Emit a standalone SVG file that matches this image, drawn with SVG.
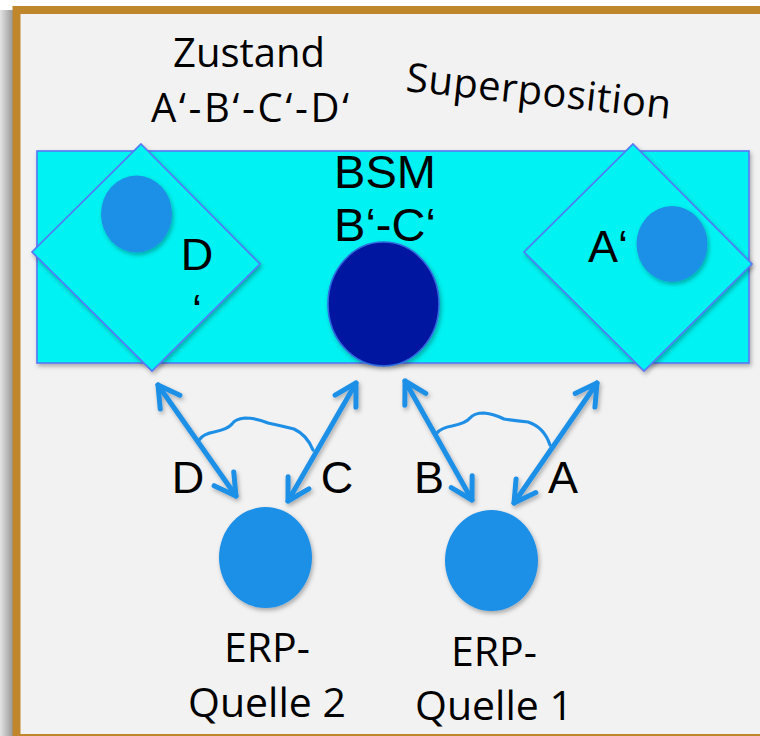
<svg xmlns="http://www.w3.org/2000/svg" width="760" height="736" viewBox="0 0 760 736">
  <style>
    .cal { font-family: "Open Sans", "Noto Sans", sans-serif; fill: #000; }
    .ari { font-family: "Liberation Sans", Arial, sans-serif; fill: #000; }
    .panel { fill: #00f2f2; stroke: #5576f5; stroke-width: 1.6; }
    .dot { fill: #1f8fe6; filter: url(#shadow); }
    .arrow { fill: none; stroke: #1f8fe6; stroke-width: 5; stroke-linecap: round; marker-start: url(#head); marker-end: url(#head); filter: url(#shadow); }
    .link { fill: none; stroke: #1f8fe6; stroke-width: 3.2; stroke-linecap: round; stroke-linejoin: round; }
  </style>
  <defs>
    <filter id="shadow" x="-30%" y="-30%" width="160%" height="160%">
      <feDropShadow dx="1.5" dy="2.5" stdDeviation="2" flood-color="#000" flood-opacity="0.3"/>
    </filter>
    <linearGradient id="edge" x1="0" y1="0" x2="1" y2="0">
      <stop offset="0" stop-color="#e4e4e4"/>
      <stop offset="1" stop-color="#979797"/>
    </linearGradient>
    <marker id="head" markerUnits="userSpaceOnUse" markerWidth="40" markerHeight="40" refX="0" refY="0" orient="auto-start-reverse" overflow="visible">
      <path d="M-21,-12 L0,0 L-21,12" fill="none" stroke="#1f8fe6" stroke-width="5" stroke-linecap="round" stroke-linejoin="round"/>
    </marker>
  </defs>

  <!-- page and frame -->
  <rect x="0" y="0" width="760" height="736" fill="#ffffff"/>
  <rect x="0" y="10" width="13" height="726" fill="url(#edge)"/>
  <rect x="16.5" y="10" width="800" height="728" fill="#f2f2f2" stroke="#bf862c" stroke-width="8"/>

  <!-- heading texts -->
  <g id="zustand">
    <text class="cal" x="249" y="67" font-size="40" text-anchor="middle">Zustand</text>
    <text class="cal" x="250" y="122" font-size="40" text-anchor="middle" textLength="198" lengthAdjust="spacing">A‘-B‘-C‘-D‘</text>
  </g>
  <g id="superposition">
    <text class="cal" x="405" y="91" font-size="40" transform="rotate(6 405 91)" textLength="266" lengthAdjust="spacing">Superposition</text>
  </g>

  <!-- shared state band -->
  <g id="band" filter="url(#shadow)">
    <rect class="panel" x="37" y="151" width="712" height="212"/>
  </g>

  <g id="node-d">
    <polygon class="panel" points="141,144 260,264 152,371 32,252" filter="url(#shadow)"/>
    <ellipse class="dot" cx="136.5" cy="214" rx="35.5" ry="38.5"/>
    <text class="ari" x="197" y="270" font-size="45" text-anchor="middle">D</text>
    <text class="ari" x="197" y="326" font-size="45" text-anchor="middle">‘</text>
  </g>

  <g id="node-a">
    <polygon class="panel" points="633,144 752,264 644,371 524,252" filter="url(#shadow)"/>
    <ellipse class="dot" cx="672" cy="244" rx="35.5" ry="38"/>
    <text class="ari" x="608" y="262" font-size="45" text-anchor="middle">A‘</text>
  </g>

  <g id="node-bsm">
    <text class="ari" x="385" y="188" font-size="47" text-anchor="middle">BSM</text>
    <text class="ari" x="385" y="241" font-size="47" text-anchor="middle">B‘-C‘</text>
    <ellipse cx="383.5" cy="304" rx="55.5" ry="62" fill="#0019a0" stroke="#2f6be0" stroke-width="1.6" filter="url(#shadow)"/>
  </g>

  <!-- entangled photon sources -->
  <g id="source-2">
    <ellipse class="dot" cx="265.5" cy="557.5" rx="46.5" ry="50.5"/>
    <text class="cal" x="267" y="662" font-size="41" text-anchor="middle">ERP-</text>
    <text class="cal" x="267" y="717" font-size="41" text-anchor="middle">Quelle 2</text>
  </g>
  <g id="source-1">
    <ellipse class="dot" cx="491.5" cy="560.5" rx="46.5" ry="50.5"/>
    <text class="cal" x="494" y="666" font-size="41" text-anchor="middle">ERP-</text>
    <text class="cal" x="494" y="720" font-size="41" text-anchor="middle">Quelle 1</text>
  </g>

  <!-- photon paths -->
  <g id="connectors">
    <line class="arrow" x1="158" y1="385" x2="236" y2="496"/>
    <line class="arrow" x1="356" y1="383" x2="288" y2="501"/>
    <line class="arrow" x1="405" y1="381" x2="472" y2="500"/>
    <line class="arrow" x1="597" y1="383" x2="514" y2="503"/>
    <path class="link" d="M199,440 Q203,434 214,432 Q228,429 232,424 Q235,419 245,418 Q256,418 268,423 Q282,426 294,429 Q307,435 313,450"/>
    <path class="link" d="M437,433 Q441,428 452,426 Q466,423 470,418 Q474,413 484,413 Q494,414 504,419 Q516,421 528,422 Q544,427 550,445"/>
  </g>

  <g id="labels">
    <text class="ari" x="188" y="493" font-size="45" text-anchor="middle">D</text>
    <text class="ari" x="337" y="493" font-size="45" text-anchor="middle">C</text>
    <text class="ari" x="429" y="493" font-size="45" text-anchor="middle">B</text>
    <text class="ari" x="563" y="493" font-size="45" text-anchor="middle">A</text>
  </g>
</svg>
